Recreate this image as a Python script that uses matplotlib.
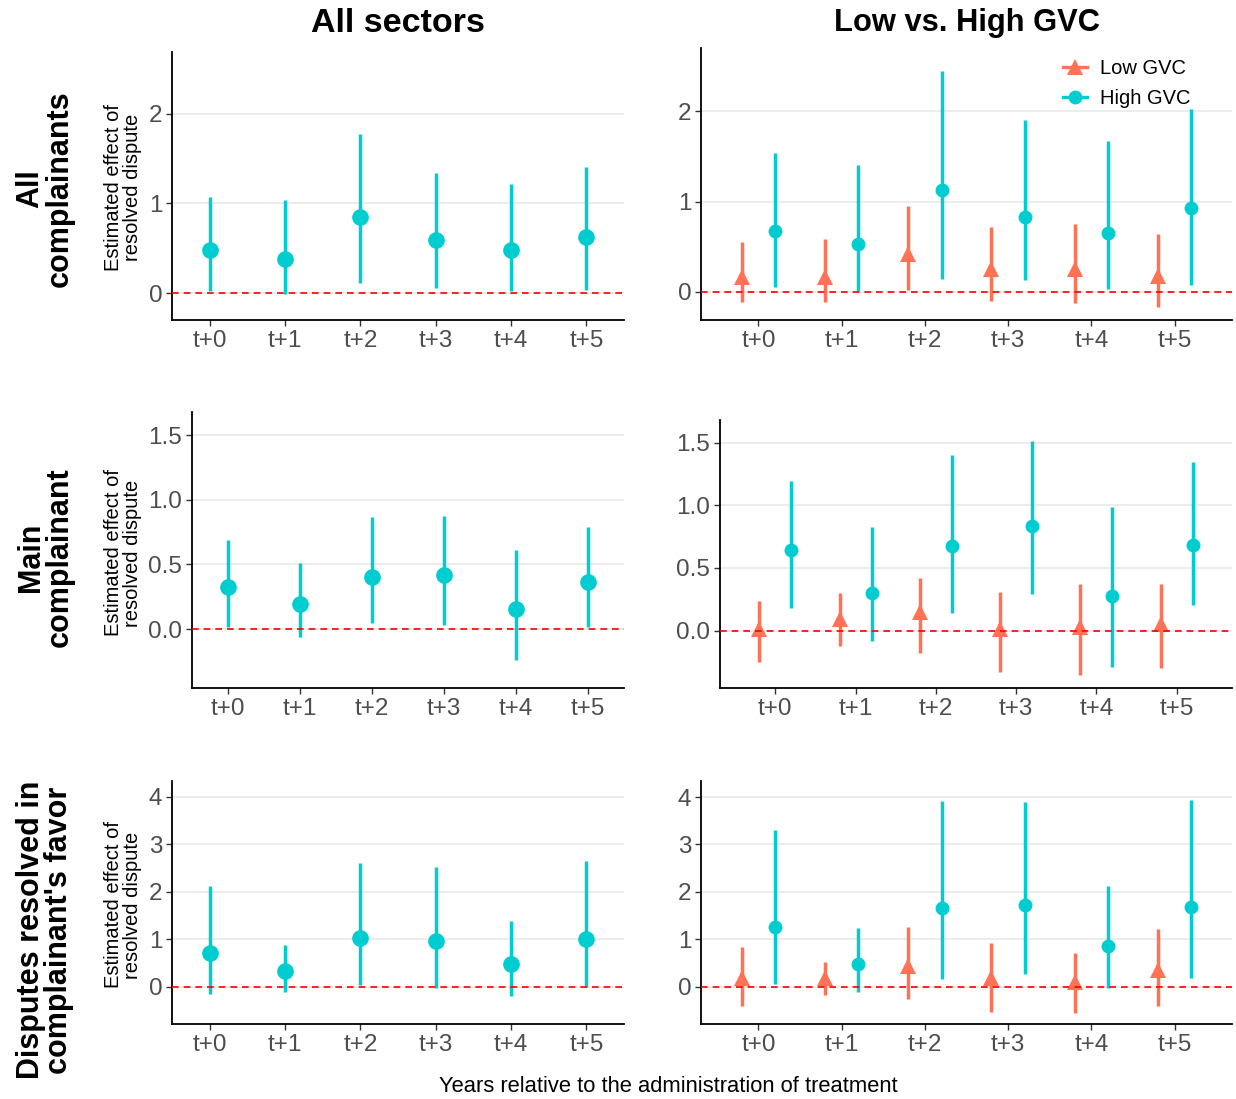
import matplotlib
matplotlib.use("Agg")
import matplotlib.pyplot as plt
import numpy as np
from matplotlib.lines import Line2D

plt.rcParams["font.family"] = ["Liberation Sans", "DejaVu Sans"]

periods = ["t+0", "t+1", "t+2", "t+3", "t+4", "t+5"]
col_titles = ["All sectors", "Low vs. High GVC"]
row_titles = ["All\ncomplainants", "Main\ncomplainant", "Disputes resolved in\ncomplainant's favor"]
y_label = "Estimated effect of\nresolved dispute"
x_label = "Years relative to the administration of treatment"
group_labels = ["Low GVC", "High GVC"]

# row 1: all complainants
all_est_r1 = [0.48, 0.38, 0.85, 0.59, 0.48, 0.63]
all_lo_r1 = [0.02, -0.01, 0.11, 0.06, 0.02, 0.03]
all_hi_r1 = [1.07, 1.04, 1.77, 1.34, 1.22, 1.41]
low_est_r1 = [0.17, 0.165, 0.42, 0.25, 0.25, 0.18]
low_lo_r1 = [-0.11, -0.11, 0.02, -0.10, -0.12, -0.17]
low_hi_r1 = [0.55, 0.59, 0.95, 0.72, 0.75, 0.64]
high_est_r1 = [0.68, 0.53, 1.125, 0.83, 0.65, 0.93]
high_lo_r1 = [0.055, 0.01, 0.14, 0.13, 0.03, 0.08]
high_hi_r1 = [1.54, 1.40, 2.44, 1.90, 1.67, 2.02]

# row 2: main complainant
all_est_r2 = [0.325, 0.193, 0.402, 0.42, 0.152, 0.366]
all_lo_r2 = [0.018, -0.062, 0.049, 0.031, -0.242, 0.015]
all_hi_r2 = [0.693, 0.513, 0.869, 0.874, 0.611, 0.791]
low_est_r2 = [0.013, 0.095, 0.146, 0.01, 0.032, 0.053]
low_lo_r2 = [-0.25, -0.12, -0.175, -0.33, -0.35, -0.30]
low_hi_r2 = [0.24, 0.30, 0.417, 0.31, 0.374, 0.369]
high_est_r2 = [0.645, 0.30, 0.672, 0.836, 0.276, 0.685]
high_lo_r2 = [0.183, -0.082, 0.143, 0.292, -0.287, 0.202]
high_hi_r2 = [1.195, 0.83, 1.404, 1.516, 0.985, 1.349]

# row 3: disputes resolved in complainant's favor
all_est_r3 = [0.71, 0.32, 1.03, 0.95, 0.47, 1.0]
all_lo_r3 = [-0.15, -0.11, 0.03, -0.04, -0.20, -0.02]
all_hi_r3 = [2.12, 0.87, 2.61, 2.51, 1.38, 2.65]
low_est_r3 = [0.19, 0.19, 0.43, 0.19, 0.09, 0.36]
low_lo_r3 = [-0.41, -0.17, -0.26, -0.53, -0.56, -0.40]
low_hi_r3 = [0.84, 0.52, 1.26, 0.93, 0.70, 1.22]
high_est_r3 = [1.26, 0.48, 1.66, 1.73, 0.86, 1.68]
high_lo_r3 = [0.05, -0.11, 0.17, 0.27, -0.02, 0.19]
high_hi_r3 = [3.31, 1.24, 3.91, 3.89, 2.12, 3.94]

y_ticks = [[0, 1, 2], [0, 0.5, 1.0, 1.5], [0, 1, 2, 3, 4]]
y_ticklabels = [["0", "1", "2"], ["0.0", "0.5", "1.0", "1.5"], ["0", "1", "2", "3", "4"]]

TEAL = "#00CDD0"
CORAL = "#FF7256"
W, H = 1236, 1099

fig = plt.figure(figsize=(W / 100, H / 100), dpi=100)


def add_axes_px(left, top, right, bottom):
    return fig.add_axes([left / W, 1 - bottom / H, (right - left) / W, (bottom - top) / H])


def style(ax, ylim, xlim, ticks, labels):
    ax.set_xlim(*xlim)
    ax.set_ylim(*ylim)
    ax.set_xticks(range(len(periods)))
    ax.set_xticklabels(periods)
    ax.set_yticks(ticks)
    ax.set_yticklabels(labels)
    for s in ["top", "right"]:
        ax.spines[s].set_visible(False)
    for s in ["left", "bottom"]:
        ax.spines[s].set_linewidth(1.3)
        ax.spines[s].set_color("black")
    ax.tick_params(axis="both", length=4, width=1.0, color="#333333",
                   labelsize=17.5, labelcolor="#4D4D4D", pad=3)
    ax.yaxis.grid(True, color="#EBEBEB", linewidth=1.3)
    ax.set_axisbelow(True)
    ax.axhline(0, color="red", linestyle=(0, (4, 3)), linewidth=1.2, zorder=10)


def pointrange(ax, x, est, lo, hi, color, marker, ms):
    ax.vlines(x, lo, hi, color=color, linewidth=2.5, zorder=3)
    ax.plot(x, est, linestyle="none", marker=marker, markersize=ms,
            color=color, markeredgewidth=0, zorder=4)


x = np.arange(len(periods))
dodge = 0.2

rows = [
    (all_est_r1, all_lo_r1, all_hi_r1, low_est_r1, low_lo_r1, low_hi_r1, high_est_r1, high_lo_r1, high_hi_r1),
    (all_est_r2, all_lo_r2, all_hi_r2, low_est_r2, low_lo_r2, low_hi_r2, high_est_r2, high_lo_r2, high_hi_r2),
    (all_est_r3, all_lo_r3, all_hi_r3, low_est_r3, low_lo_r3, low_hi_r3, high_est_r3, high_lo_r3, high_hi_r3),
]
left_rects = [(172, 52, 624, 320), (192, 412, 624, 688), (172, 781, 624, 1024)]
right_rects = [(701, 48, 1232, 320), (720, 420, 1232, 688), (701, 781, 1232, 1024)]
left_ylims = [(-0.30, 2.69), (-0.456, 1.68), (-0.79, 4.33)]
right_ylims = [(-0.31, 2.70), (-0.457, 1.68), (-0.79, 4.34)]
row_centers = [189, 557, 930]
ylab_centers = [187, 553, 905]

for i, r in enumerate(rows):
    a_est, a_lo, a_hi, l_est, l_lo, l_hi, h_est, h_lo, h_hi = r

    ax_l = add_axes_px(*left_rects[i])
    style(ax_l, left_ylims[i], (-0.5, 5.5), y_ticks[i], y_ticklabels[i])
    pointrange(ax_l, x, a_est, a_lo, a_hi, TEAL, "o", 12)

    ax_r = add_axes_px(*right_rects[i])
    style(ax_r, right_ylims[i], (-0.69, 5.69), y_ticks[i], y_ticklabels[i])
    pointrange(ax_r, x - dodge, l_est, l_lo, l_hi, CORAL, "^", 11.5)
    pointrange(ax_r, x + dodge, h_est, h_lo, h_hi, TEAL, "o", 10)

    if i == 0:
        handles = [
            Line2D([], [], color=CORAL, marker="^", markersize=11, linewidth=2.4, markeredgewidth=0),
            Line2D([], [], color=TEAL, marker="o", markersize=10, linewidth=2.4, markeredgewidth=0),
        ]
        ax_r.legend(handles, group_labels, loc="upper right", bbox_to_anchor=(1191 / W, 1 - 59 / H),
                    bbox_transform=fig.transFigure, frameon=False, fontsize=14.5,
                    handlelength=1.2, handletextpad=0.65, labelspacing=0.55, borderaxespad=0,
                    borderpad=0)

    fig.text(45 / W, 1 - row_centers[i] / H, row_titles[i], rotation=90, ha="center", va="center",
             fontsize=22, fontweight="bold", linespacing=0.95)
    fig.text(123 / W, 1 - ylab_centers[i] / H, y_label, rotation=90, ha="center", va="center",
             fontsize=14.5, linespacing=0.95)

fig.text(398 / W, 1 - 23 / H, col_titles[0], ha="center", va="center", fontsize=24.5, fontweight="bold")
fig.text(967 / W, 1 - 23 / H, col_titles[1], ha="center", va="center", fontsize=22.2, fontweight="bold")
fig.text(668 / W, 1 - 1087 / H, x_label, ha="center", va="center", fontsize=15.8)

fig.savefig("out.png", dpi=100, facecolor="white")
